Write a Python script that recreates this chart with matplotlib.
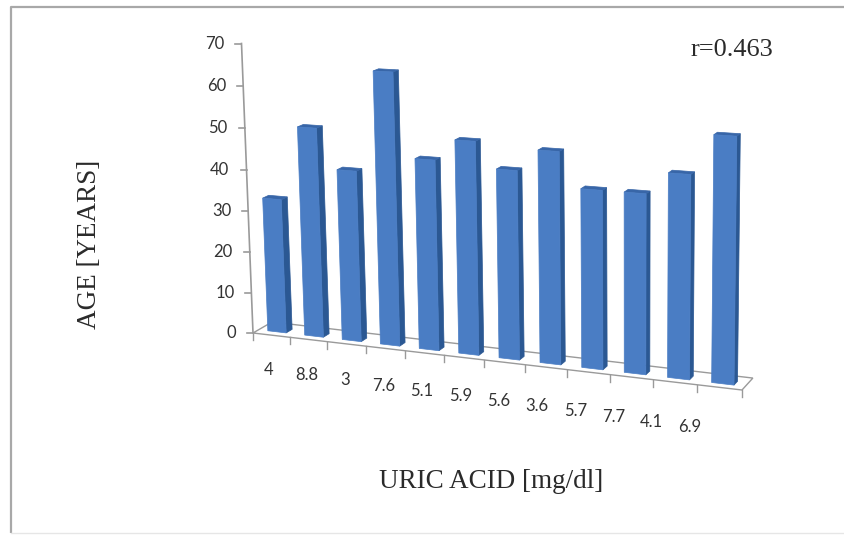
import numpy as np
import matplotlib
matplotlib.use("Agg")
import matplotlib.pyplot as plt
import matplotlib.transforms as mtransforms
from matplotlib.patches import Polygon

# data
uric_acid = ["4", "8.8", "3", "7.6", "5.1", "5.9", "5.6", "3.6", "5.7", "7.7", "4.1", "6.9"]
age = [32.7, 50.5, 41, 64.7, 45, 50, 44, 49, 41, 41, 46, 55]
y_ticks = [0, 10, 20, 30, 40, 50, 60, 70]

W, H = 844, 538
n = len(age)
u_lo, u_hi = -0.5, n - 0.5
v_top = 70

# projected front plane of the 3d chart (pixel anchors, y down)
src = [(u_lo, 0), (u_hi, 0), (u_lo, v_top), (u_hi, v_top)]
dst = [(253, 333), (742, 390), (241.5, 43.5), (746, 68.5)]
depth_vp = (1395, -328)   # vanishing point of the depth direction
depth_k = 0.01664


def fit_homography(src, dst):
    a, b = [], []
    for (x, y), (X, Y) in zip(src, dst):
        a.append([x, y, 1, 0, 0, 0, -X * x, -X * y])
        b.append(X)
        a.append([0, 0, 0, x, y, 1, -Y * x, -Y * y])
        b.append(Y)
    h = np.linalg.solve(np.array(a, float), np.array(b, float))
    return np.append(h, 1).reshape(3, 3)


class Homography(mtransforms.Transform):
    input_dims = 2
    output_dims = 2
    is_separable = False
    has_inverse = True

    def __init__(self, m):
        super().__init__()
        self.m = m

    def transform_non_affine(self, values):
        xy = np.asarray(values, float).reshape(-1, 2)
        p = np.column_stack([xy, np.ones(len(xy))]) @ self.m.T
        return p[:, :2] / p[:, 2:3]

    def inverted(self):
        return Homography(np.linalg.inv(self.m))


proj = Homography(fit_homography(src, dst))


def depth(t):
    s = depth_k * t
    return mtransforms.Affine2D().scale(1 - s).translate(s * depth_vp[0], s * depth_vp[1])


def P(u, v, t=0.0):
    return tuple((proj + depth(t)).transform([(u, v)])[0])


fig = plt.figure(figsize=(W / 100, H / 100), dpi=100)
ax = fig.add_axes([0, 0, 1, 1])
ax.set_xlim(0, W)
ax.set_ylim(H, 0)
ax.axis("off")

# outer frame
ax.plot([10.5, 10.5, W], [533, 6.5, 6.5], color="#a8a8a8", lw=1.6, solid_capstyle="butt")
ax.plot([10.5, W], [533, 533], color="#e6e6e6", lw=1)

# floor
axis_col = "#9a9a9a"
floor = [P(u_lo, 0, 0), P(u_hi, 0, 0), P(u_hi, 0, 1), P(u_lo, 0, 1)]
ax.add_patch(Polygon(floor, closed=True, facecolor="white", edgecolor=axis_col, lw=1))

# category ticks on the front edge
for k in range(n + 1):
    x0, y0 = P(u_lo + k, 0, 0)
    ax.plot([x0, x0], [y0, y0 + 7], color=axis_col, lw=1)

# value axis
xa, ya = P(u_lo, 0, 0)
xb, yb = P(u_lo, v_top, 0)
ax.plot([xa, xb], [ya, yb], color=axis_col, lw=1.2)
for v in y_ticks:
    x0, y0 = P(u_lo, v, 0)
    ax.plot([x0 - 6, x0], [y0, y0], color=axis_col, lw=1.2)
    ax.text(x0 - 17, y0, str(v), ha="right", va="center", fontsize=12,
            family="Lato", color="#333333")

# bars
bar_w = 0.5
t0, t1 = 0.3, 0.62
front_col = "#4a7dc4"
side_col = "#2b5893"
top_col = "#3866a8"
for i, val in enumerate(age):
    a0, a1 = i - bar_w / 2, i + bar_w / 2
    side = [P(a1, 0, t0), P(a1, 0, t1), P(a1, val, t1), P(a1, val, t0)]
    top = [P(a0, val, t0), P(a1, val, t0), P(a1, val, t1), P(a0, val, t1)]
    front = [P(a0, 0, t0), P(a1, 0, t0), P(a1, val, t0), P(a0, val, t0)]
    ax.add_patch(Polygon(side, closed=True, facecolor=side_col, edgecolor=side_col, lw=0.5))
    ax.add_patch(Polygon(top, closed=True, facecolor=top_col, edgecolor=top_col, lw=0.5))
    ax.add_patch(Polygon(front, closed=True, facecolor=front_col, edgecolor=front_col, lw=0.5))

# category labels
lab_x = np.linspace(269, 690, n)
lab_y = np.linspace(370, 427, n)
for lab, x, y in zip(uric_acid, lab_x, lab_y):
    ax.text(x, y, lab, ha="center", va="center", fontsize=12, family="Lato", color="#333333")

# titles
serif = "Liberation Serif"
ax.text(90, 244, "AGE [YEARS]", rotation=90, ha="center", va="center",
        fontsize=19.5, family=serif, color="#2a2a2a")
ax.text(491, 482, "URIC ACID [mg/dl]", ha="center", va="center",
        fontsize=19.5, family=serif, color="#2a2a2a")
ax.text(732, 50, "r=0.463", ha="center", va="center", fontsize=19,
        family=serif, color="#2a2a2a")

fig.savefig("out.png", dpi=100)
